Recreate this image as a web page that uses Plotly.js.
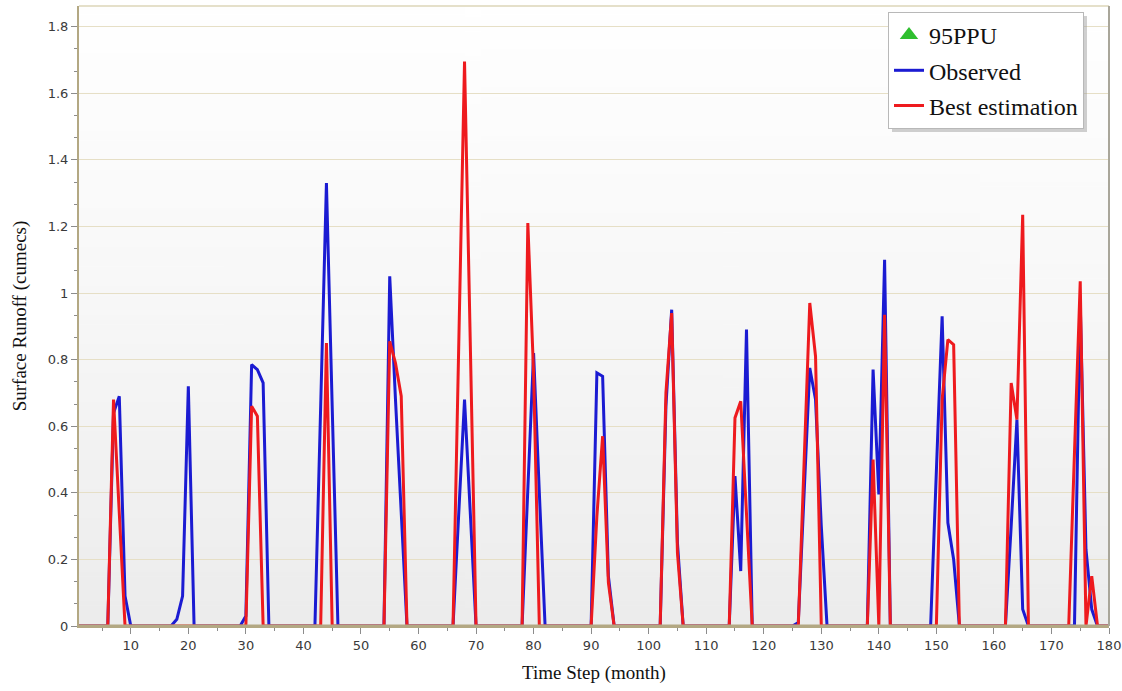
<!DOCTYPE html>
<html>
<head>
<meta charset="utf-8">
<script src="https://cdn.plot.ly/plotly-3.0.1.min.js"></script>
<style>html,body{margin:0;padding:0;background:#fff;}#chart{width:1122px;height:691px;}</style>
</head>
<body>
<div id="chart"></div>
<script>
// Observed surface runoff (cumecs) by time step (month)
const obsMonths = [1, 6, 7, 8, 9, 10, 17, 18, 19, 20, 21, 29, 30, 31, 32, 33, 34,
  42, 43, 44, 45, 46, 54, 55, 56, 57, 58, 66, 67, 68, 69, 70, 78, 79, 80, 81, 82,
  90, 91, 92, 93, 94, 102, 103, 104, 105, 106, 114, 115, 116, 117, 118,
  125, 126, 127, 128, 129, 130, 131, 138, 139, 140, 141, 142,
  149, 150, 151, 152, 153, 154, 162, 163, 164, 165, 166, 174, 175, 176, 177, 178, 180];
const obsValues = [0, 0, 0.64, 0.69, 0.09, 0, 0, 0.02, 0.09, 0.72, 0, 0, 0.03, 0.785, 0.77, 0.73, 0,
  0, 0.66, 1.33, 0.66, 0, 0, 1.05, 0.68, 0.34, 0, 0, 0.34, 0.68, 0.34, 0, 0, 0.40, 0.82, 0.40, 0,
  0, 0.76, 0.75, 0.15, 0, 0, 0.66, 0.95, 0.25, 0, 0, 0.45, 0.165, 0.89, 0,
  0, 0.01, 0.40, 0.775, 0.68, 0.30, 0, 0, 0.77, 0.395, 1.10, 0,
  0, 0.46, 0.93, 0.31, 0.20, 0, 0, 0.30, 0.62, 0.05, 0, 0, 0.97, 0.23, 0.05, 0, 0];

// Best estimation surface runoff (cumecs) by time step (month)
const estMonths = [1, 6, 7, 8, 9, 30, 31, 32, 33, 43, 44, 45, 54, 55, 56, 57, 58,
  66, 67, 68, 69, 70, 78, 79, 80, 81, 90, 91, 92, 93, 94, 102, 103, 104, 105, 106,
  114, 115, 116, 117, 118, 126, 127, 128, 129, 130, 138, 139, 140, 141, 142,
  150, 151, 152, 153, 154, 162, 163, 164, 165, 166, 173, 174, 175, 176, 177, 178, 180];
const estValues = [0, 0, 0.68, 0.32, 0, 0, 0.66, 0.63, 0, 0, 0.85, 0, 0, 0.855, 0.79, 0.69, 0,
  0, 0.85, 1.695, 0.85, 0, 0, 1.21, 0.76, 0, 0, 0.33, 0.57, 0.13, 0, 0, 0.70, 0.94, 0.22, 0,
  0, 0.625, 0.675, 0.35, 0, 0, 0.50, 0.97, 0.81, 0, 0, 0.50, 0, 0.935, 0,
  0, 0.68, 0.86, 0.845, 0, 0, 0.73, 0.62, 1.235, 0, 0, 0.52, 1.035, 0, 0.15, 0, 0];

const seriesNames = ['95PPU', 'Observed', 'Best estimation'];
const xTitle = 'Time Step (month)';
const yTitle = 'Surface Runoff (cumecs)';

// background gradient for the plot area
const cv = document.createElement('canvas');
cv.width = 4; cv.height = 256;
const cx = cv.getContext('2d');
const g = cx.createLinearGradient(0, 0, 0, 256);
g.addColorStop(0, '#ffffff');
g.addColorStop(0.45, '#f8f8f8');
g.addColorStop(1, '#ececec');
cx.fillStyle = g; cx.fillRect(0, 0, 4, 256);
const bgUrl = cv.toDataURL('image/png');

const serif = 'Liberation Serif, Times New Roman, serif';
const sans = 'DejaVu Sans, Verdana, sans-serif';

const traces = [
  {
    type: 'scatter', mode: 'markers', name: seriesNames[0],
    x: [null], y: [null],
    marker: {symbol: 'triangle-up', size: 22, color: '#2fbf2f'},
    legendgroup: 'a'
  },
  {
    type: 'scatter', mode: 'lines', name: seriesNames[1],
    x: obsMonths, y: obsValues,
    line: {color: '#1b1bd2', width: 3},
    legendgroup: 'b'
  },
  {
    type: 'scatter', mode: 'lines', name: seriesNames[2],
    x: estMonths, y: estValues,
    line: {color: '#ee1a1e', width: 3},
    legendgroup: 'c'
  }
];

// plot area in pixels: x 79..1109, y 6..626
const px = v => (v - 79) / 1030;
const py = v => 1 - (v - 6) / 620;

const layout = {
  width: 1122, height: 691,
  margin: {l: 79, r: 13, t: 6, b: 65},
  paper_bgcolor: '#ffffff',
  plot_bgcolor: 'rgba(0,0,0,0)',
  showlegend: true,
  legend: {
    x: px(888), y: py(12), xanchor: 'left', yanchor: 'top',
    bgcolor: '#ffffff', bordercolor: '#b8b8b8', borderwidth: 1,
    font: {family: serif, size: 24, color: '#111111'},
    traceorder: 'grouped', tracegroupgap: 1, itemsizing: 'trace'
  },
  xaxis: {
    range: [1, 180],
    tick0: 0, dtick: 10,
    ticks: 'outside', ticklen: 6, tickcolor: '#8c8c8c', tickwidth: 1,
    tickfont: {family: sans, size: 13, color: '#3a3a3a'},
    showgrid: false, zeroline: false,
    showline: true, linecolor: '#b3a883', linewidth: 2, mirror: false,
    minor: {dtick: 5, tick0: 0, ticks: 'outside', ticklen: 3, tickcolor: '#8c8c8c', showgrid: false},
    title: {text: xTitle, font: {family: serif, size: 19, color: '#111111'}, standoff: 14}
  },
  yaxis: {
    range: [0, 1.862],
    tick0: 0, dtick: 0.2,
    ticks: 'outside', ticklen: 6, tickcolor: '#8c8c8c', tickwidth: 1,
    tickfont: {family: sans, size: 13, color: '#3a3a3a'},
    showgrid: true, gridcolor: '#e6dfc6', gridwidth: 1,
    zeroline: false,
    showline: true, linecolor: '#b3a883', linewidth: 2, mirror: false,
    minor: {dtick: 0.2 / 3, tick0: 0, ticks: 'outside', ticklen: 3, tickcolor: '#8c8c8c', showgrid: false},
    title: {text: yTitle, font: {family: serif, size: 19, color: '#111111'}, standoff: 16}
  },
  images: [{
    source: bgUrl, xref: 'paper', yref: 'paper', x: 0, y: 1, sizex: 1, sizey: 1,
    sizing: 'stretch', layer: 'below', xanchor: 'left', yanchor: 'top'
  }],
  shapes: [
    {type: 'line', xref: 'paper', yref: 'y', x0: 0, x1: 1, y0: 0, y1: 0,
     line: {color: '#b3a883', width: 3}, layer: 'above'},
    {type: 'line', xref: 'paper', yref: 'paper', x0: 0, x1: 1, y0: 1, y1: 1,
     line: {color: '#ddd6b8', width: 1.5}, layer: 'above'},
    {type: 'line', xref: 'paper', yref: 'paper', x0: 1, x1: 1, y0: 0, y1: 1,
     line: {color: '#a9a69a', width: 2}, layer: 'above'},
    // legend drop shadow
    {type: 'rect', xref: 'paper', yref: 'paper', x0: px(892), x1: px(1087), y0: py(132), y1: py(16),
     fillcolor: 'rgba(150,150,150,0.45)', line: {width: 0}, layer: 'above'}
  ]
};

Plotly.newPlot('chart', traces, layout, {staticPlot: true, displayModeBar: false});
</script>
</body>
</html>
